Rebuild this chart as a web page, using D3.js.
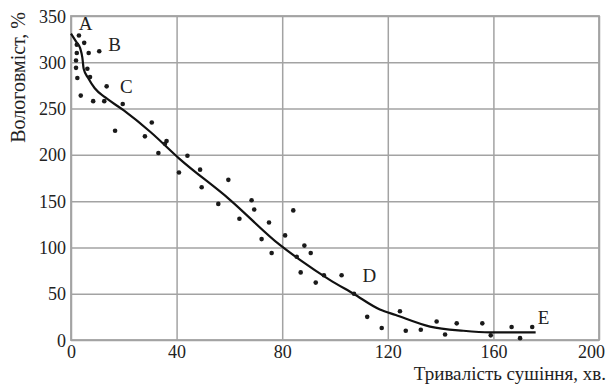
<!DOCTYPE html>
<html><head><meta charset="utf-8">
<script src="https://cdn.jsdelivr.net/npm/d3@7"></script>
<style>
html,body{margin:0;padding:0;background:#fff;}
svg{display:block;}
</style></head>
<body>
<svg id="chart" width="611" height="385"></svg>
<script>
// Experimental points: drying time (min) and moisture content (%)
const pointTime = [3.0,5.0,2.2,6.7,10.7,2.2,1.9,1.9,6.2,2.4,7.2,13.5,3.7,8.4,12.6,19.6,30.6,16.7,28.0,36.2,35.6,33.1,44.1,40.9,48.9,59.6,49.5,55.8,68.4,69.4,84.2,63.8,75.0,81.1,72.2,88.4,90.8,76.0,85.5,87.0,95.8,102.5,92.7,107.2,112.2,117.7,124.6,126.8,132.5,138.5,141.7,146.1,155.8,159.0,166.9,170.1,174.7];
const pointMoisture = [329,321,319,310,312,310,302,294,293,283,284,274,264,258,258,255,235,226,220,215,212,202,199,181,184,173,165,147,151,141,140,131,127,113,109,102,94,94,90,73,70,70,62,50,25,13,31,10,11,20,6,18,18,5,14,2,14];
// Drying curve
const curveTime = [0,2,3.5,4.3,4.8,6.5,9,13,20,30,41,60,79,87,98,107,117,123,136,148.6,158.7,176];
const curveMoisture = [331,322,315,305,293,283,272,262,248,225,196,152,103,86,65,50,33,27,14.5,10,8.3,8.3];
// Curve stage labels
const stageNames = ["A","B","C","D","E"];
const stageTime = [5.5,16.5,21,113,179];
const stageMoisture = [342,319,274,70,25];
// Axis ticks
const xTicks = [0,40,80,120,160,200];
const yTicks = [0,50,100,150,200,250,300,350];
const xTitle = "Тривалість сушіння, хв.";
const yTitle = "Вологовміст, %";

const FONT = '"Liberation Serif","DejaVu Serif","Times New Roman",serif';
const svg = d3.select("#chart");
const L=71,R=599,T=16,B=340;
const x = d3.scaleLinear().domain([0,200]).range([L,R]);
const y = d3.scaleLinear().domain([0,350]).range([B,T]);
const gridColor="#a3a3a3";

// grid
const gx = svg.append("g").attr("transform",`translate(0,${B})`)
  .call(d3.axisBottom(x).tickValues(xTicks).tickSize(-(B-T)).tickPadding(5).tickFormat(d3.format("d")));
const gy = svg.append("g").attr("transform",`translate(${L},0)`)
  .call(d3.axisLeft(y).tickValues(yTicks).tickSize(-(R-L)).tickPadding(5).tickFormat(d3.format("d")));
[gx,gy].forEach(g=>{
  g.select(".domain").remove();
  g.selectAll(".tick line").attr("stroke",gridColor).attr("stroke-width",1.5);
  g.selectAll(".tick text").style("font-family",FONT).style("font-size","18px").attr("fill","#222");
});
gy.selectAll(".tick text").attr("dy","0.34em");
gx.selectAll(".tick text").attr("dy","0.72em")
  .attr("dx",d=>d===200?-8:0);

svg.append("rect").attr("x",L).attr("y",T).attr("width",R-L).attr("height",B-T)
  .attr("fill","none").attr("stroke",gridColor).attr("stroke-width",1.8);

// curve
const line = d3.line().x(d=>x(d[0])).y(d=>y(d[1])).curve(d3.curveMonotoneX);
svg.append("path").datum(d3.zip(curveTime,curveMoisture)).attr("d",line)
  .attr("fill","none").attr("stroke","#111").attr("stroke-width",2.2);

// points
svg.append("g").selectAll("circle").data(d3.zip(pointTime,pointMoisture)).join("circle")
  .attr("cx",d=>x(d[0])).attr("cy",d=>y(d[1])).attr("r",2.3).attr("fill","#1a1a1a");

// stage labels
svg.append("g").selectAll("text").data(d3.zip(stageNames,stageTime,stageMoisture)).join("text")
  .attr("x",d=>x(d[1])).attr("y",d=>y(d[2])).attr("text-anchor","middle").attr("dy","0.35em")
  .style("font-family",FONT).style("font-size","19px").attr("fill","#222").text(d=>d[0]);

// titles
svg.append("text").attr("x",606).attr("y",380).attr("text-anchor","end")
  .style("font-family",FONT).style("font-size","19px").attr("fill","#222").text(xTitle);
svg.append("text").attr("transform","translate(25,12) rotate(-90)").attr("text-anchor","end")
  .style("font-family",FONT).style("font-size","20px").attr("fill","#222").text(yTitle);
</script>
</body></html>
